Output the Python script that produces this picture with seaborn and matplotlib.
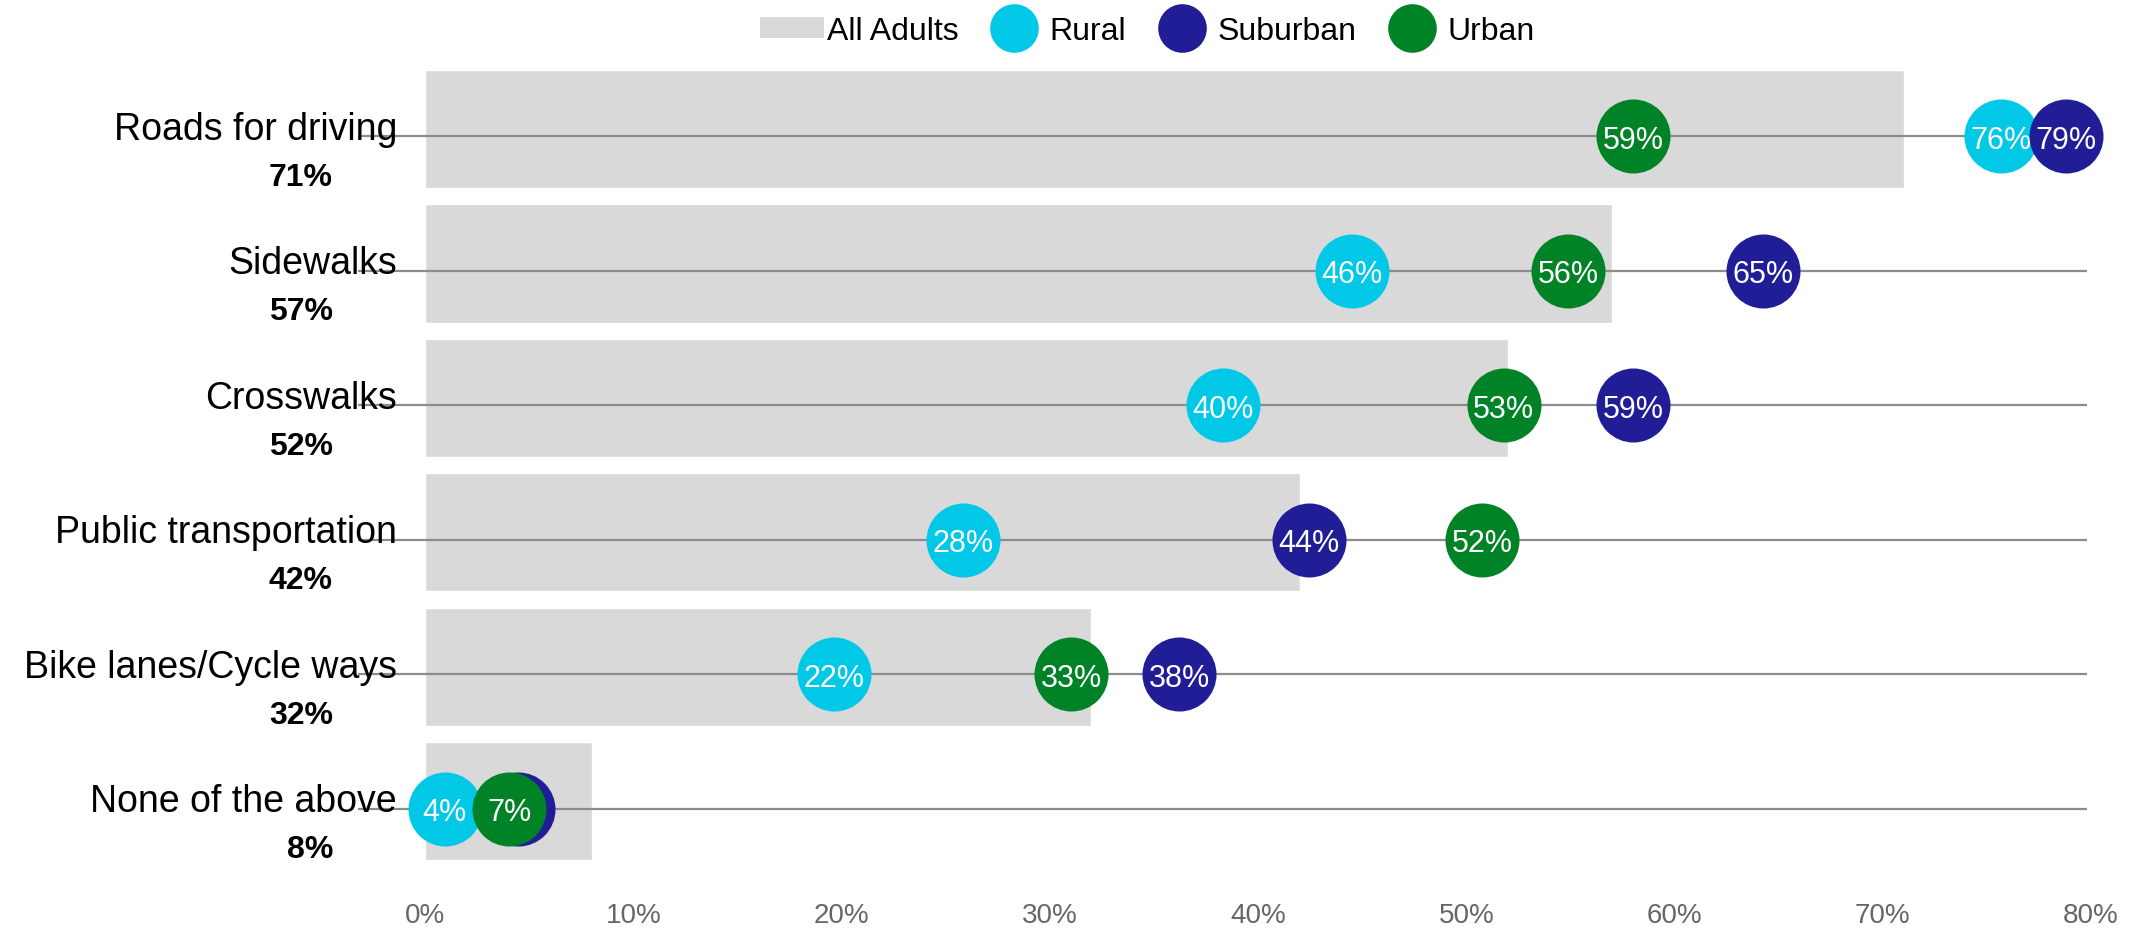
import pandas as pd
import seaborn as sns
import matplotlib.pyplot as plt
from matplotlib.patches import Patch
from matplotlib.lines import Line2D

# data
categories = ["Roads for driving", "Sidewalks", "Crosswalks",
              "Public transportation", "Bike lanes/Cycle ways", "None of the above"]
all_adults = [71, 57, 52, 42, 32, 8]
rural = [76, 46, 40, 28, 22, 4]
suburban = [79, 65, 59, 44, 38, 7.4]
urban = [59, 56, 53, 52, 33, 7]

groups = ["Rural", "Suburban", "Urban"]
colors = {"Rural": "#00c8e6", "Suburban": "#201d96", "Urban": "#008226"}
bar_color = "#d9d9d9"
line_color = "#8c8c8c"


'''
Build the dataframes seaborn wants from the small lists above.
'''
def make_frames():
  bars = pd.DataFrame({"category": categories, "value": all_adults})
  rows = []
  for name, vals in zip(groups, [rural, suburban, urban]):
    for i, (cat, v) in enumerate(zip(categories, vals)):
      rows.append({"group": name, "category": cat, "pos": i, "value": v})
  dots = pd.DataFrame(rows)
  return bars, dots


'''
A label is hidden when a group drawn later sits almost on top of it.
'''
def is_covered(dots, group, pos, value):
  later = groups[groups.index(group) + 1:]
  same = dots[(dots["pos"] == pos) & (dots["group"].isin(later))]
  return ((same["value"] - value).abs() < 1).any()


def main():
  sns.set_theme(style="white")
  plt.rcParams["font.family"] = ["Liberation Sans", "DejaVu Sans"]

  bars, dots = make_frames()
  fig = plt.figure(figsize=(21.48, 9.29), dpi=100)

  # axis for the grey "All Adults" bars (sits a touch higher than the lines)
  ax = fig.add_axes([0.1979, 0.064, 0.7756, 0.8686])
  sns.barplot(data=bars, x="value", y="category", order=categories,
              color=bar_color, saturation=1, width=0.88, ax=ax, zorder=1)
  ax.set_xlim(0, 80)
  ax.set_ylim(len(categories) - 0.5, -0.5)
  ax.set_xticks(range(0, 81, 10))
  ax.set_xticklabels([f"{t}%" for t in range(0, 81, 10)],
                     fontsize=20, color="#666666")
  ax.tick_params(axis="x", length=0, pad=24)
  ax.set_yticks([])
  ax.set_xlabel("")
  ax.set_ylabel("")
  sns.despine(ax=ax, left=True, bottom=True)

  # second axis for lines + dots (slightly wider scale in the original)
  ax2 = fig.add_axes([0.1667, 0.056, 0.8050, 0.8686])
  ax2.patch.set_visible(False)
  ax2.set_xlim(0, 80)
  ax2.hlines(range(len(categories)), 0, 80, color=line_color, lw=1.6, zorder=2)

  # category names + overall share
  for i, (cat, v) in enumerate(zip(categories, all_adults)):
    ax2.text(1.8, i + 0.02, cat, ha="right", va="baseline",
             fontsize=27, color="black", clip_on=False, zorder=2.5)
    ax2.text(-1.16, i + 0.36, f"{v}%", ha="right", va="baseline",
             fontsize=23, fontweight="bold", color="black", clip_on=False)

  for k, name in enumerate(groups):
    sub = dots[dots["group"] == name]
    sns.scatterplot(data=sub, x="value", y="pos", color=colors[name],
                    s=2840, linewidth=0, legend=False, ax=ax2,
                    zorder=3 + k, clip_on=False)
    for _, r in sub.iterrows():
      if is_covered(dots, name, r["pos"], r["value"]):
        continue
      ax2.text(r["value"], r["pos"], f"{r['value']:.0f}%", ha="center",
               va="center_baseline", fontsize=22, color="white",
               zorder=3.5 + k, clip_on=False)
  ax2.set_ylim(len(categories) - 0.5, -0.5)
  ax2.axis("off")

  # legend along the top
  handles = [Patch(facecolor=bar_color, edgecolor="none", label="All Adults")]
  for name in groups:
    handles.append(Line2D([], [], marker="o", linestyle="none", markersize=35,
                          markerfacecolor=colors[name], markeredgewidth=0,
                          label=name))
  fig.legend(handles=handles, loc="center", bbox_to_anchor=(0.534, 0.966),
             ncol=4, frameon=False, fontsize=23, handlelength=2.0,
             handleheight=0.62, handletextpad=0.1, columnspacing=0.75,
             labelcolor="black")

  plt.savefig("out.png", dpi=100)
  plt.close(fig)


if __name__ == "__main__":
  main()
